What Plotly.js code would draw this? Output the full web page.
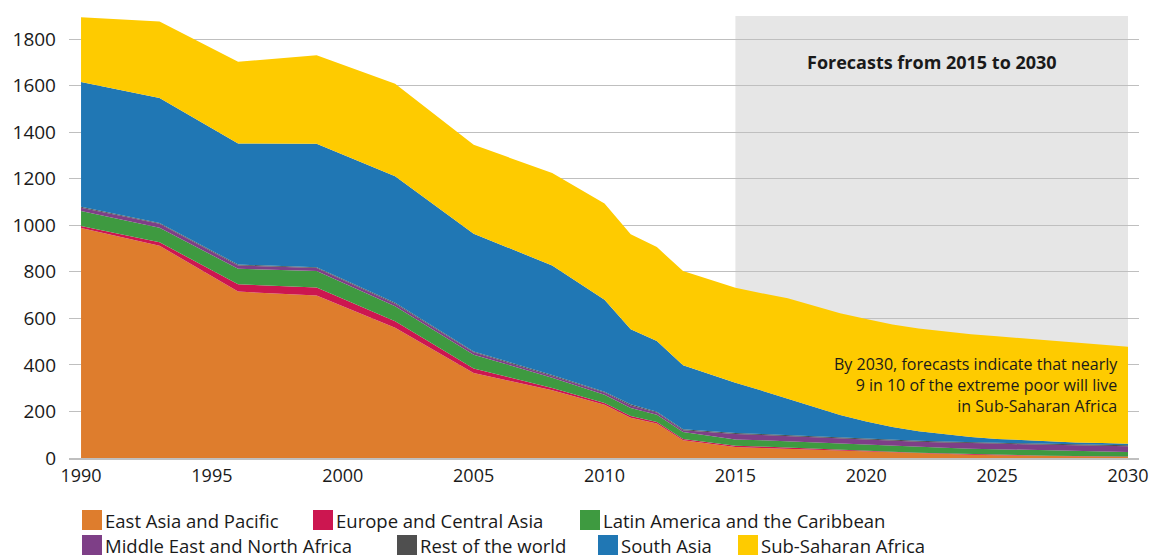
<!DOCTYPE html>
<html>
<head>
<meta charset="utf-8">
<script src="https://cdn.plot.ly/plotly-3.0.1.min.js"></script>
<style>
  html, body { margin: 0; padding: 0; background: #ffffff; }
  #chart { width: 1152px; height: 559px; }
</style>
</head>
<body>
<div id="chart"></div>
<script>
// ---- Data (millions of extreme poor) ----
const years = [1990, 1993, 1996, 1999, 2002, 2005, 2008, 2010, 2011, 2012, 2013,
               2015, 2016, 2017, 2018, 2019, 2020, 2021, 2022, 2023, 2024, 2025, 2026, 2027, 2028, 2029, 2030];

const eastAsiaPacific   = [988, 912, 715, 698, 560, 365, 291, 229, 173, 148, 76,
                           47, 43, 39, 35, 31, 27, 23, 20, 17, 14, 12, 10, 8, 7, 5, 4];
const europeCentralAsia = [9, 15, 31, 34, 27, 19, 10, 7, 7, 7, 6,
                           6, 6, 5, 5, 4, 4, 4, 3, 3, 3, 3, 3, 2, 2, 2, 2];
const latinAmerica      = [64, 62, 67, 71, 65, 60, 44, 36, 35, 31, 30,
                           27, 27, 27, 27, 26, 26, 25, 25, 24, 23, 23, 22, 22, 21, 21, 20];
const middleEastNAfrica = [14, 17, 14, 13, 11, 10, 7, 9, 11, 9, 7,
                           23, 23, 23, 22, 22, 22, 22, 22, 23, 23, 24, 24, 24, 25, 25, 25];
const restOfWorld       = [5, 4, 4, 4, 4, 4, 5, 4, 5, 4, 4,
                           4, 4, 4, 4, 4, 4, 4, 4, 4, 4, 4, 4, 4, 4, 4, 4];
const southAsia         = [535, 537, 520, 530, 543, 506, 470, 395, 322, 304, 275,
                           216, 187, 157, 125, 98, 74, 55, 41, 30, 23, 16, 13, 11, 8, 7, 6];
const subSaharanAfrica  = [279, 328, 351, 380, 398, 382, 397, 413, 408, 403, 405,
                           408, 418, 431, 436, 437, 440, 441, 441, 442, 442, 441, 438, 434, 429, 423, 417];

const seriesNames = ["East Asia and Pacific", "Europe and Central Asia", "Latin America and the Caribbean",
                     "Middle East and North Africa", "Rest of the world", "South Asia", "Sub-Saharan Africa"];
const seriesValues = [eastAsiaPacific, europeCentralAsia, latinAmerica, middleEastNAfrica,
                      restOfWorld, southAsia, subSaharanAfrica];
const seriesColors = ["#DE7D2D", "#CC1650", "#3E9A40", "#7E3F87", "#4F4F4F", "#2077B4", "#FECB00"];

const xTicks = [1990, 1995, 2000, 2005, 2010, 2015, 2020, 2025, 2030];
const yTicks = [0, 200, 400, 600, 800, 1000, 1200, 1400, 1600, 1800];

const forecastStart = 2015, forecastEnd = 2030;
const forecastLabel = "Forecasts from 2015 to 2030";
const noteText = "By 2030, forecasts indicate that nearly<br>9 in 10 of the extreme poor will live<br>in Sub-Saharan Africa";

// ---- Layout geometry ----
const W = 1152, H = 559;
const M = { l: 69, r: 13, t: 16, b: 101 };
const plotW = W - M.l - M.r, plotH = H - M.t - M.b;
const px = x => (x - M.l) / plotW;            // pixel x -> paper
const py = y => (H - M.b - y) / plotH;        // pixel y -> paper

const FONT = "Open Sans, Noto Sans, sans-serif";
const TXT = "#1a1a1a";

const traces = seriesNames.map((name, i) => ({
  type: "scatter",
  mode: "lines",
  x: years,
  y: seriesValues[i],
  name: name,
  stackgroup: "one",
  line: { width: 0, color: seriesColors[i] },
  fillcolor: seriesColors[i],
  showlegend: false,
  hoverinfo: "x+y+name"
}));

// custom legend (two rows, as in the original)
const legendRows = [
  { y: 520, items: [[0, 82], [1, 313], [2, 580]] },
  { y: 545, items: [[3, 82], [4, 397], [5, 598], [6, 738]] }
];
const shapes = [{
  type: "rect", xref: "x", yref: "paper",
  x0: forecastStart, x1: forecastEnd, y0: 0, y1: 1,
  fillcolor: "#E6E6E6", line: { width: 0 }, layer: "below"
}];
const annotations = [
  {
    xref: "x", yref: "paper", x: (forecastStart + forecastEnd) / 2, y: py(62),
    text: "<b>" + forecastLabel + "</b>", showarrow: false,
    font: { family: FONT, size: 18, color: TXT }, xanchor: "center", yanchor: "middle"
  },
  {
    xref: "paper", yref: "paper", x: px(1120), y: py(385),
    text: noteText, showarrow: false, align: "right",
    font: { family: FONT, size: 16, color: TXT }, xanchor: "right", yanchor: "middle"
  }
];
legendRows.forEach(row => {
  row.items.forEach(([idx, xs]) => {
    shapes.push({
      type: "rect", xref: "paper", yref: "paper",
      x0: px(xs), x1: px(xs + 20), y0: py(row.y + 10), y1: py(row.y - 10),
      fillcolor: seriesColors[idx], line: { width: 0 }
    });
    annotations.push({
      xref: "paper", yref: "paper", x: px(xs + 22), y: py(row.y),
      text: seriesNames[idx], showarrow: false, borderpad: 0,
      font: { family: FONT, size: 18.5, color: TXT }, xanchor: "left", yanchor: "middle"
    });
  });
});

const layout = {
  width: W, height: H,
  margin: M,
  paper_bgcolor: "#ffffff",
  plot_bgcolor: "#ffffff",
  font: { family: FONT, color: TXT },
  showlegend: false,
  xaxis: {
    range: [1989.54, 2030.42],
    tickvals: xTicks,
    ticktext: xTicks.map(String),
    showgrid: false,
    zeroline: false,
    showline: true,
    linecolor: "#BFBFBF",
    linewidth: 2,
    ticks: "",
    tickfont: { family: FONT, size: 18, color: TXT },
    fixedrange: true
  },
  yaxis: {
    range: [0, 1899],
    tickvals: yTicks,
    ticktext: yTicks.map(String),
    showgrid: true,
    gridcolor: "#BFBFBF",
    gridwidth: 1,
    zeroline: false,
    showline: false,
    ticks: "",
    ticklabelstandoff: 12,
    tickfont: { family: FONT, size: 19, color: TXT },
    fixedrange: true
  },
  shapes: shapes,
  annotations: annotations
};

Plotly.newPlot("chart", traces, layout, { displayModeBar: false, staticPlot: true });
</script>
</body>
</html>
